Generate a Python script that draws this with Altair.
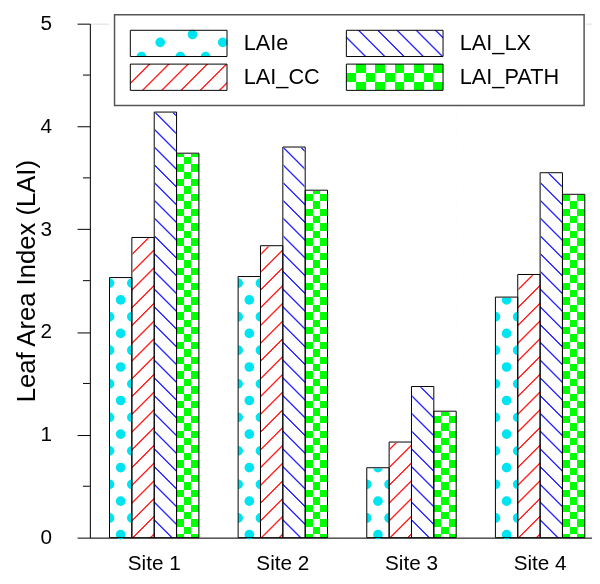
import math
import altair as alt
import pandas as pd

# ---------------- data ----------------
sites = ["Site 1", "Site 2", "Site 3", "Site 4"]
series = ["LAIe", "LAI_CC", "LAI_LX", "LAI_PATH"]
lai_e = [2.53, 2.54, 0.68, 2.34]
lai_cc = [2.92, 2.84, 0.93, 2.56]
lai_lx = [4.14, 3.80, 1.47, 3.55]
lai_path = [3.74, 3.38, 1.23, 3.34]
y_major = [0, 1, 2, 3, 4, 5]
y_minor = [0.5, 1.5, 2.5, 3.5, 4.5]
y_title = "Leaf Area Index (LAI)"

rows = []
for s, vals in zip(series, [lai_e, lai_cc, lai_lx, lai_path]):
    for site, v in zip(sites, vals):
        rows.append({"site": site, "series": s, "value": v})
df = pd.DataFrame(rows)
legend_df = pd.DataFrame({"series": series})

# ---------------- layout / style ----------------
FONT = "Liberation Sans"
W, H, YMAX = 509, 521, 5
P_IN, P_OUT, ALIGN = 0.305, 0.1042, 0.732
STEP = W / (len(sites) - P_IN + 2 * P_OUT)
BAR_W = STEP * (1 - P_IN) / len(series)
PX = H / YMAX

CYAN = "#00e4f0"
RED = "#ff2020"
BLUE = "#2a2aff"
GREEN = "#00ff00"
MAG = "#ff00ff"
WHITE = "#ffffff"
BLACK = "#000000"


def stripe_gradient(w, h, a, b, sign, period, phase, profile):
    """Linear gradient (bbox units) giving periodic bands along a*x + sign*b*y."""
    L = a * w + b * h
    k = L / (a * a * w * w + b * b * h * h)
    du, dv = k * a * w, k * b * h
    if sign > 0:
        x1, y1, x2, y2 = 0, 0, du, dv
    else:
        x1, y1, x2, y2 = 0, 1, du, 1 - dv
    pts = []
    c = phase - period * (int(phase // period) + 2)
    while c < L + 2 * period:
        for ds, col in profile:
            pts.append((c + ds, col))
        c += period
    stops = []
    for s, col in pts:
        if -period < s < L + period:
            stops.append({"offset": round(min(max(s / L, 0.0), 1.0), 5), "color": col})
    return {"gradient": "linear", "x1": x1, "y1": y1, "x2": x2, "y2": y2, "stops": stops}


def line_profile(col):
    return [(-1.5, WHITE), (-0.45, col), (0.45, col), (1.5, WHITE)]


def hard_profile(p, c1, c2):
    return [(0, c1), (p / 2, c1), (p / 2, c2), (p, c2)]


SLASH_P = 18.0
CHECK_H = 15.0
CHECK_W = BAR_W * 2 / 3

grad_cc = stripe_gradient(BAR_W, H, 1, 1, 1, SLASH_P, 0, line_profile(RED))
grad_lx = stripe_gradient(BAR_W, H, 1, 1, -1, SLASH_P, 0, line_profile(BLUE))
grad_pa = stripe_gradient(BAR_W, H, 0, 1, 1, CHECK_H, 0, hard_profile(CHECK_H, GREEN, WHITE))
grad_pb = stripe_gradient(BAR_W, H, 1, 0, 1, CHECK_W, 0, hard_profile(CHECK_W, MAG, BLACK))

# legend swatch geometry (plot coordinates)
SW_W, SW_H = 98, 26.6
COL_X = [41, 260]
ROW_Y = [6.7, 41]
LAB_X = [156, 375]

lg_cc = stripe_gradient(SW_W, SW_H, 1, 1, 1, 19.5, 0, line_profile(RED))
lg_lx = stripe_gradient(SW_W, SW_H, 1, 1, -1, 19.5, 0, line_profile(BLUE))
lg_pa = stripe_gradient(SW_W, SW_H, 0, 1, 1, 17.7, 0, hard_profile(17.7, GREEN, WHITE))
lg_pb = stripe_gradient(SW_W, SW_H, 1, 0, 1, 19.6, 0, hard_profile(19.6, MAG, BLACK))

DOT_SIZE = 96
DOT_R = math.sqrt(DOT_SIZE) / 2
o = (BAR_W / 2) / DOT_R
EDGE_DOTS = (f"M{-o:.4f},-1A1,1,0,0,1,{-o:.4f},1Z "
             f"M{o:.4f},-1A1,1,0,0,0,{o:.4f},1Z")
TOP_HALF = "M-1,0A1,1,0,0,1,1,0Z"

# ---------------- scales / axes ----------------
xscale = alt.Scale(domain=sites, paddingInner=P_IN, paddingOuter=P_OUT, align=ALIGN)
oscale = alt.Scale(domain=series, paddingInner=0, paddingOuter=0)
yscale = alt.Scale(domain=[0, YMAX], nice=False, zero=True)
xaxis = alt.Axis(title=None, labelAngle=0, ticks=False, domainColor="black", domainWidth=1,
                 labelFont=FONT, labelFontSize=21, labelColor="black", labelPadding=15)
yaxis = alt.Axis(values=y_major, tickSize=13, tickColor="black", tickWidth=1,
                 domainColor="black", domainWidth=1, grid=False,
                 labelFont=FONT, labelFontSize=21, labelColor="black", labelPadding=26,
                 titleFont=FONT, titleFontSize=26, titleFontWeight="normal", titleColor="black",
                 titleX=-64, titleY=H / 2, titleAngle=270, titleAlign="center",
                 titleBaseline="middle")


def X():
    return alt.X("site:N", scale=xscale, axis=xaxis, sort=sites)


def XO():
    return alt.XOffset("series:N", scale=oscale, sort=series)


def Y(f):
    return alt.Y(f"{f}:Q", scale=yscale, axis=yaxis, title=y_title)


base = alt.Chart(df).transform_calculate(top=str(YMAX), bot="0")


def full(sname, **mk):
    return base.transform_filter(alt.datum.series == sname).mark_bar(**mk).encode(
        x=X(), xOffset=XO(), y=Y("top"), y2="bot")


dot_step = 34 / PX
dot_c0 = 3 / PX


def dots(start, shape):
    return (base.transform_filter(alt.datum.series == "LAIe")
            .transform_calculate(dots=f"sequence({start:.5f}, datum.value + {dot_step:.5f}, {dot_step:.5f})")
            .transform_flatten(["dots"])
            .mark_point(filled=True, shape=shape, size=DOT_SIZE, color=CYAN, opacity=1,
                        strokeWidth=0)
            .encode(x=X(), xOffset=XO(), y=Y("dots")))


layers = [
    full("LAIe", fill=WHITE),
    dots(dot_c0, "circle"),
    dots(dot_c0 + dot_step / 2, EDGE_DOTS),
    full("LAI_CC", fill=grad_cc),
    full("LAI_LX", fill=grad_lx),
    full("LAI_PATH", fill=grad_pa),
    full("LAI_PATH", fill=grad_pb, blend="difference"),
    # white cover above each bar
    base.mark_bar(fill=WHITE, stroke=WHITE, strokeWidth=1.5).encode(
        x=X(), xOffset=XO(), y=Y("value"), y2="top"),
    # outlines
    base.mark_bar(fill="transparent", stroke="black", strokeWidth=1).encode(
        x=X(), xOffset=XO(), y=Y("value"), y2="bot"),
    # minor ticks
    alt.Chart(pd.DataFrame({"m": y_minor})).mark_rule(color="black", strokeWidth=1).encode(
        y=Y("m"), x=alt.value(-7), x2=alt.value(0)),
]

# ---------------- legend ----------------
leg = alt.Chart(legend_df)


def leg_item(sname):
    return leg.transform_filter(alt.datum.series == sname)


layers.append(leg_item("LAIe").mark_rect(fill=WHITE, stroke="#555555", strokeWidth=1.5).encode(
    x=alt.value(25), x2=alt.value(501), y=alt.value(-9), y2=alt.value(83)))

swatches = [
    ("LAIe", 0, 0, [WHITE]),
    ("LAI_CC", 0, 1, [lg_cc]),
    ("LAI_LX", 1, 0, [lg_lx]),
    ("LAI_PATH", 1, 1, [lg_pa, lg_pb]),
]
for sname, ci, ri, fills in swatches:
    x0, y0 = COL_X[ci], ROW_Y[ri]
    for j, f in enumerate(fills):
        mk = dict(fill=f)
        if j == 1:
            mk["blend"] = "difference"
        layers.append(leg_item(sname).mark_rect(**mk).encode(
            x=alt.value(x0), x2=alt.value(x0 + SW_W), y=alt.value(y0), y2=alt.value(y0 + SW_H)))
    if sname == "LAIe":
        for dx_, dy_, shp in [(30.3, 12.3, "circle"), (63, 4.3, "circle"), (93.7, 12.3, "circle"),
                              (11.3, SW_H, TOP_HALF), (50.7, SW_H, TOP_HALF), (76.3, SW_H, TOP_HALF)]:
            layers.append(leg_item(sname).mark_point(filled=True, shape=shp, size=DOT_SIZE, color=CYAN,
                                                     opacity=1, strokeWidth=0).encode(
                x=alt.value(x0 + dx_), y=alt.value(y0 + dy_)))
    layers.append(leg_item(sname).mark_rect(fill="transparent", stroke="black", strokeWidth=1).encode(
        x=alt.value(x0), x2=alt.value(x0 + SW_W), y=alt.value(y0), y2=alt.value(y0 + SW_H)))
    layers.append(leg_item(sname).mark_text(align="left", baseline="middle", font=FONT,
                                            fontSize=22, color="black").encode(
        x=alt.value(LAB_X[ci]), y=alt.value(y0 + SW_H / 2 - 0.5), text="series:N"))

chart = alt.layer(*layers).properties(
    width=W, height=H,
    padding={"left": 83, "top": 12, "right": 0, "bottom": 35},
    autosize=alt.AutoSizeParams(type="none"),
).configure_view(strokeWidth=0).configure(background="white")

chart.save("out.html", embed_options={"renderer": "svg", "actions": False})
